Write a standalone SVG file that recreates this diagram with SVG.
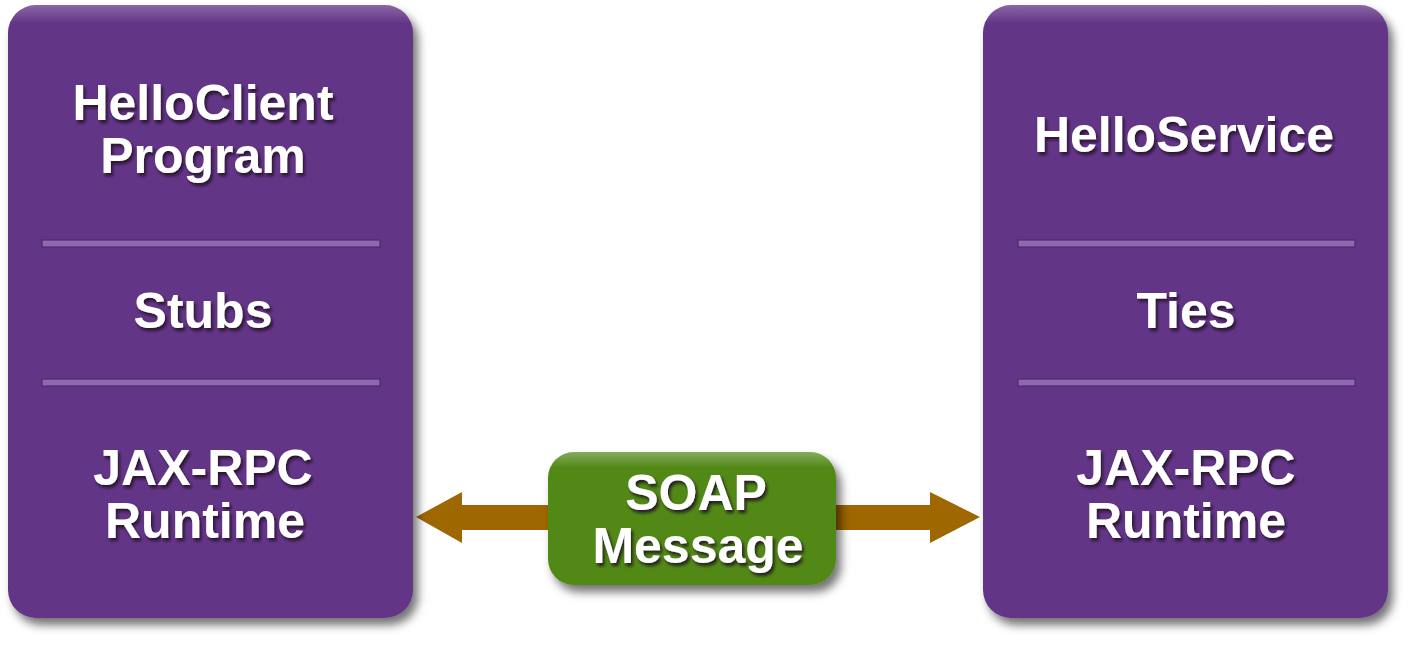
<svg xmlns="http://www.w3.org/2000/svg" width="1412" height="650" viewBox="0 0 1412 650">
<defs>
<style>
.lbl{font-family:"Liberation Sans",Arial,sans-serif;font-weight:bold;font-size:50px;fill:#ffffff;text-anchor:middle;filter:url(#ts)}
.box{fill:#643487}
.div{fill:#9068b0;stroke:#4e2a70;stroke-width:1.2}
.arrow{fill:#9e6700}
</style>
<filter id="ds" x="-10%" y="-10%" width="130%" height="130%">
<feDropShadow dx="5" dy="7" stdDeviation="5" flood-color="#000" flood-opacity="0.55"/>
</filter>
<filter id="ts" x="-10%" y="-20%" width="130%" height="150%">
<feDropShadow dx="2" dy="3" stdDeviation="1.5" flood-color="#1a0a20" flood-opacity="0.85"/>
</filter>
<linearGradient id="hl" x1="0" y1="0" x2="0" y2="1">
<stop offset="0" stop-color="#ffffff" stop-opacity="0.25"/>
<stop offset="0.03" stop-color="#ffffff" stop-opacity="0"/>
</linearGradient>
<linearGradient id="ghl" x1="0" y1="0" x2="0" y2="1">
<stop offset="0" stop-color="#ffffff" stop-opacity="0.3"/>
<stop offset="0.12" stop-color="#ffffff" stop-opacity="0"/>
</linearGradient>
</defs>

<g id="connectors">
<polygon class="arrow" points="416,517 462,492 462,505 552,505 552,530 462,530 462,543"/>
<polygon class="arrow" points="980,517 930,492 930,505 832,505 832,530 930,530 930,543"/>
</g>

<g id="client">
<rect class="box" x="8" y="5" width="405" height="613" rx="28" filter="url(#ds)"/>
<rect x="8" y="5" width="405" height="613" rx="28" fill="url(#hl)"/>
<rect class="div" x="42" y="240" width="338" height="7"/>
<rect class="div" x="42" y="379" width="338" height="7"/>
<text class="lbl" x="203" y="120">HelloClient</text>
<text class="lbl" x="203" y="173">Program</text>
<text class="lbl" x="203" y="328">Stubs</text>
<text class="lbl" x="203" y="485">JAX-RPC</text>
<text class="lbl" x="205" y="538">Runtime</text>
</g>

<g id="service">
<rect class="box" x="983" y="5" width="405" height="613" rx="28" filter="url(#ds)"/>
<rect x="983" y="5" width="405" height="613" rx="28" fill="url(#hl)"/>
<rect class="div" x="1018" y="240" width="337" height="7"/>
<rect class="div" x="1018" y="379" width="337" height="7"/>
<text class="lbl" x="1184" y="152">HelloService</text>
<text class="lbl" x="1186" y="328">Ties</text>
<text class="lbl" x="1186" y="485">JAX-RPC</text>
<text class="lbl" x="1186" y="538">Runtime</text>
</g>

<g id="soap">
<rect x="548" y="452" width="288" height="133" rx="26" fill="#518816" filter="url(#ds)"/>
<rect x="548" y="452" width="288" height="133" rx="26" fill="url(#ghl)"/>
<text class="lbl" x="696" y="510">SOAP</text>
<text class="lbl" x="698" y="563">Message</text>
</g>
</svg>
